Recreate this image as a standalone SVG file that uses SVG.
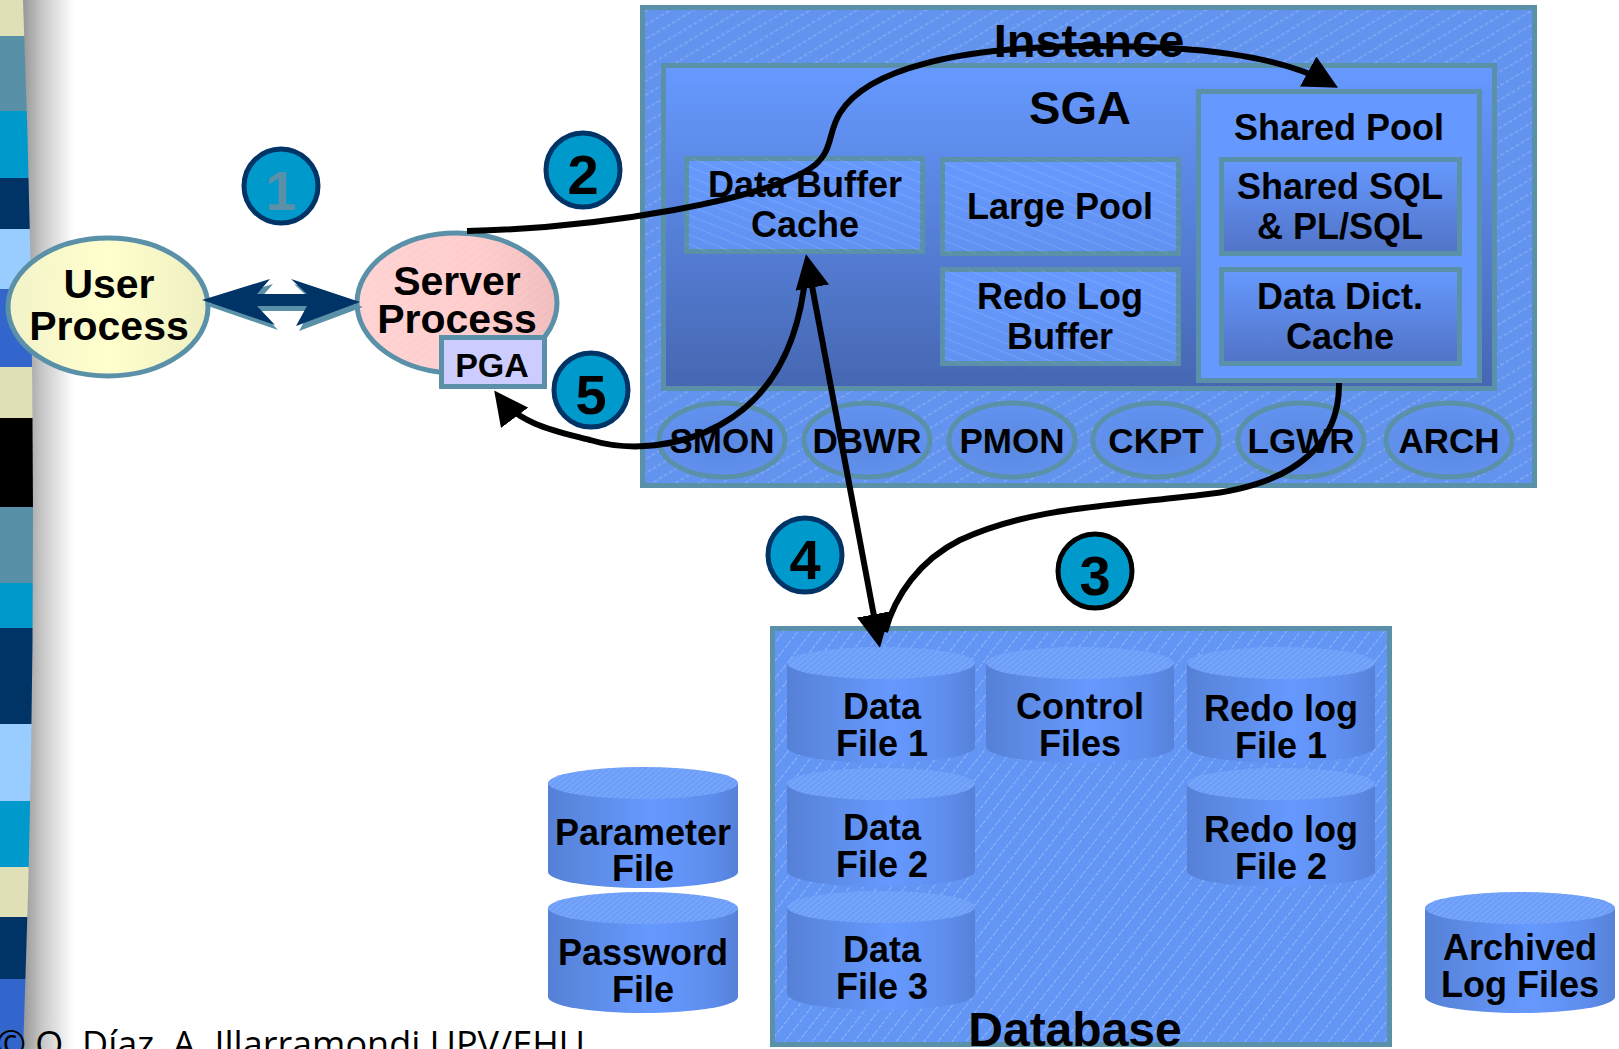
<svg xmlns="http://www.w3.org/2000/svg" width="1619" height="1049" viewBox="0 0 1619 1049">
<defs>
  <style>
    text { font-family: "Liberation Sans", Arial, sans-serif; font-weight: bold; fill: #000; text-anchor: middle; font-size: 36px; }
    .huge { font-size: 47px; }
    .proc-t { font-size: 41px; }
    .digit { font-size: 56px; }
    .edge { stroke: #5a90a8; stroke-width: 5; }
    .inner { fill: url(#innerFill); stroke: #5a90a8; stroke-width: 5; }
    .dict { fill: url(#dictFill); stroke: #5a90a8; stroke-width: 5; }
    .bg-proc { fill: url(#bgProcFill); stroke: #5a90a8; stroke-width: 5; }
    .badge { fill: #0099cc; stroke: #003366; stroke-width: 5; }
    .flow { fill: none; stroke: #000; stroke-width: 6; }
    .drum-body { fill: url(#drumBody); }
    .drum-cap { fill: url(#capHatch); }
    .footer { font-family: "Open Sans", "DejaVu Sans", sans-serif; font-weight: normal; font-size: 36px; text-anchor: start; }
  </style>

  <!-- side band shadow -->
  <linearGradient id="bandShadow" gradientUnits="userSpaceOnUse" x1="22" y1="0" x2="74" y2="0">
    <stop offset="0" stop-color="#949494"/>
    <stop offset="0.4" stop-color="#c9c9c9"/>
    <stop offset="1" stop-color="#ffffff"/>
  </linearGradient>
  <clipPath id="bandClip">
    <path d="M0,0 H23 Q43,525 23,1049 H0 Z"/>
  </clipPath>

  <linearGradient id="sgaFill" x1="0" y1="0" x2="0" y2="1">
    <stop offset="0" stop-color="#6699ff"/>
    <stop offset="1" stop-color="#4667b2"/>
  </linearGradient>
  <linearGradient id="innerFill" x1="0" y1="0" x2="0" y2="1">
    <stop offset="0" stop-color="#6699ff"/>
    <stop offset="1" stop-color="#6192f2"/>
  </linearGradient>
  <linearGradient id="dictFill" x1="0" y1="0" x2="0" y2="1">
    <stop offset="0" stop-color="#6699ff"/>
    <stop offset="1" stop-color="#5173c6"/>
  </linearGradient>
  <radialGradient id="bgProcFill" cx="0.5" cy="0.55" r="0.6">
    <stop offset="0" stop-color="#5a88e0"/>
    <stop offset="1" stop-color="#6394f2"/>
  </radialGradient>
  <linearGradient id="userFill" x1="0" y1="0" x2="1" y2="0">
    <stop offset="0" stop-color="#f2f2c8"/>
    <stop offset="0.5" stop-color="#ffffcc"/>
    <stop offset="1" stop-color="#eeeec0"/>
  </linearGradient>
  <linearGradient id="serverFill" x1="0" y1="0" x2="1" y2="0">
    <stop offset="0" stop-color="#ffd2d2"/>
    <stop offset="0.6" stop-color="#ffcccc"/>
    <stop offset="1" stop-color="#f0bcbc"/>
  </linearGradient>
  <linearGradient id="drumBody" x1="0" y1="0" x2="1" y2="0">
    <stop offset="0" stop-color="#5580d6"/>
    <stop offset="0.2" stop-color="#5c8ae4"/>
    <stop offset="0.55" stop-color="#6699ff"/>
    <stop offset="0.85" stop-color="#5e8ded"/>
    <stop offset="1" stop-color="#5681d8"/>
  </linearGradient>

  <!-- hatching -->
  <pattern id="hatchWide" patternUnits="userSpaceOnUse" width="12" height="12" patternTransform="rotate(-31)">
    <line x1="0" y1="6" x2="12" y2="6" stroke="#ffffff" stroke-opacity="0.3" stroke-width="1" stroke-dasharray="4 2"/>
  </pattern>
  <pattern id="hatchSteep" patternUnits="userSpaceOnUse" width="11" height="11" patternTransform="rotate(-52)">
    <line x1="0" y1="5.5" x2="11" y2="5.5" stroke="#ffffff" stroke-opacity="0.3" stroke-width="1" stroke-dasharray="4 2"/>
  </pattern>
  <pattern id="hatchDown" patternUnits="userSpaceOnUse" width="9" height="9" patternTransform="rotate(22)">
    <line x1="0" y1="4.5" x2="9" y2="4.5" stroke="#ffffff" stroke-opacity="0.12" stroke-width="1"/>
  </pattern>
  <pattern id="hatchSoft" patternUnits="userSpaceOnUse" width="6" height="6" patternTransform="rotate(-35)">
    <line x1="0" y1="3" x2="6" y2="3" stroke="#ffffff" stroke-opacity="0.25" stroke-width="1"/>
  </pattern>
  <pattern id="capHatch" patternUnits="userSpaceOnUse" width="4" height="4" patternTransform="rotate(-40)">
    <rect width="4" height="4" fill="#6a9cf8"/>
    <line x1="0" y1="2" x2="4" y2="2" stroke="#8fb5ff" stroke-opacity="0.7" stroke-width="1"/>
  </pattern>

  <marker id="head" markerUnits="userSpaceOnUse" markerWidth="34" markerHeight="34" viewBox="0 0 34 34" refX="26" refY="17" orient="auto-start-reverse">
    <path d="M0,0 L34,17 L0,34 Z" fill="#000"/>
  </marker>
</defs>

<rect width="1619" height="1049" fill="#ffffff"/>

<!-- decorative striped band on the left edge -->
<g id="side-band">
  <rect x="0" y="0" width="80" height="1049" fill="url(#bandShadow)"/>
  <g clip-path="url(#bandClip)">
    <rect x="0" y="0" width="50" height="36" fill="#e0e0b8"/>
    <rect x="0" y="36" width="50" height="75" fill="#5890a8"/>
    <rect x="0" y="111" width="50" height="67" fill="#0099cc"/>
    <rect x="0" y="178" width="50" height="51" fill="#003366"/>
    <rect x="0" y="229" width="50" height="60" fill="#99ccff"/>
    <rect x="0" y="289" width="50" height="78" fill="#3366cc"/>
    <rect x="0" y="367" width="50" height="51" fill="#e0e0b8"/>
    <rect x="0" y="418" width="50" height="89" fill="#000000"/>
    <rect x="0" y="507" width="50" height="76" fill="#5890a8"/>
    <rect x="0" y="583" width="50" height="45" fill="#0099cc"/>
    <rect x="0" y="628" width="50" height="96" fill="#003366"/>
    <rect x="0" y="724" width="50" height="77" fill="#99ccff"/>
    <rect x="0" y="801" width="50" height="66" fill="#0099cc"/>
    <rect x="0" y="867" width="50" height="50" fill="#e0e0b8"/>
    <rect x="0" y="917" width="50" height="62" fill="#003366"/>
    <rect x="0" y="979" width="50" height="70" fill="#3366cc"/>
  </g>
</g>

<!-- client side -->
<g id="user-process">
  <ellipse cx="108" cy="307" rx="100" ry="69" fill="url(#userFill)"/>
  <ellipse cx="108" cy="307" rx="100" ry="69" fill="url(#hatchSoft)" opacity="0.6"/>
  <ellipse cx="108" cy="307" rx="100" ry="69" fill="none" class="edge"/>
  <text class="proc-t" x="109" y="298">User</text>
  <text class="proc-t" x="109" y="340">Process</text>
</g>

<g id="server-process">
  <ellipse cx="457" cy="303" rx="100" ry="70" fill="url(#serverFill)"/>
  <ellipse cx="457" cy="303" rx="100" ry="70" fill="url(#hatchSoft)" opacity="0.6"/>
  <ellipse cx="457" cy="303" rx="100" ry="70" fill="none" class="edge"/>
  <text class="proc-t" x="457" y="295">Server</text>
  <text class="proc-t" x="457" y="333">Process</text>
</g>

<g id="pga">
  <rect x="441.5" y="337.5" width="103" height="49" fill="#ccccff" class="edge"/>
  <text x="492" y="377" style="font-size:34px">PGA</text>
</g>

<!-- instance -->
<g id="instance">
  <rect x="642.5" y="7.5" width="892" height="478" fill="#6293ee"/>
  <rect x="642.5" y="7.5" width="892" height="478" fill="url(#hatchWide)"/>
  <rect x="642.5" y="7.5" width="892" height="478" fill="none" class="edge"/>
  <text class="huge" x="1089" y="57">Instance</text>
</g>

<g id="sga">
  <rect x="663.5" y="65.5" width="831" height="323" fill="url(#sgaFill)" class="edge"/>
  <text class="huge" x="1080" y="124">SGA</text>
</g>

<g id="data-buffer-cache">
  <rect x="686.5" y="158.5" width="236" height="93" class="inner"/>
  <rect x="686.5" y="158.5" width="236" height="93" fill="url(#hatchDown)"/>
  <text x="805" y="197">Data Buffer</text>
  <text x="805" y="237">Cache</text>
</g>

<g id="large-pool">
  <rect x="942.5" y="159.5" width="236" height="94" class="inner"/>
  <rect x="942.5" y="159.5" width="236" height="94" fill="url(#hatchDown)"/>
  <text x="1060" y="219">Large Pool</text>
</g>

<g id="redo-log-buffer">
  <rect x="942.5" y="269.5" width="236" height="94" class="inner"/>
  <rect x="942.5" y="269.5" width="236" height="94" fill="url(#hatchDown)"/>
  <text x="1060" y="309">Redo Log</text>
  <text x="1060" y="349">Buffer</text>
</g>

<g id="shared-pool">
  <rect x="1198.5" y="91.5" width="281" height="289" fill="#6699ff" class="edge"/>
  <text x="1339" y="140">Shared Pool</text>
</g>

<g id="shared-sql">
  <rect x="1221.5" y="159.5" width="238" height="94" class="dict"/>
  <text x="1340" y="199">Shared SQL</text>
  <text x="1340" y="239">&amp; PL/SQL</text>
</g>

<g id="data-dict-cache">
  <rect x="1221.5" y="269.5" width="238" height="94" class="dict"/>
  <text x="1340" y="309">Data Dict.</text>
  <text x="1340" y="349">Cache</text>
</g>

<!-- background processes -->
<g id="smon"><ellipse cx="722" cy="440" rx="63" ry="37" class="bg-proc"/><text x="722" y="453" style="font-size:35px">SMON</text></g>
<g id="dbwr"><ellipse cx="867" cy="440" rx="63" ry="37" class="bg-proc"/><text x="867" y="453" style="font-size:35px">DBWR</text></g>
<g id="pmon"><ellipse cx="1012" cy="440" rx="63" ry="37" class="bg-proc"/><text x="1012" y="453" style="font-size:35px">PMON</text></g>
<g id="ckpt"><ellipse cx="1156" cy="440" rx="63" ry="37" class="bg-proc"/><text x="1156" y="453" style="font-size:35px">CKPT</text></g>
<g id="lgwr"><ellipse cx="1301" cy="440" rx="63" ry="37" class="bg-proc"/><text x="1301" y="453" style="font-size:35px">LGWR</text></g>
<g id="arch"><ellipse cx="1449" cy="440" rx="63" ry="37" class="bg-proc"/><text x="1449" y="453" style="font-size:35px">ARCH</text></g>

<!-- database -->
<g id="database">
  <rect x="772.5" y="628.5" width="617" height="416" fill="#6395f5"/>
  <rect x="772.5" y="628.5" width="617" height="416" fill="url(#hatchSteep)"/>
  <rect x="772.5" y="628.5" width="617" height="416" fill="none" class="edge"/>
  <text x="1075" y="1046" style="font-size:48px">Database</text>
</g>

<g id="data-file-1">
  <path class="drum-body" d="M787,663 V747 A94,16 0 0 0 975,747 V663 Z"/>
  <ellipse class="drum-cap" cx="881" cy="663" rx="94" ry="16"/>
  <text x="882" y="719">Data</text>
  <text x="882" y="756">File 1</text>
</g>
<g id="control-files">
  <path class="drum-body" d="M986,663 V747 A94,16 0 0 0 1174,747 V663 Z"/>
  <ellipse class="drum-cap" cx="1080" cy="663" rx="94" ry="16"/>
  <text x="1080" y="719">Control</text>
  <text x="1080" y="756">Files</text>
</g>
<g id="redo-log-file-1">
  <path class="drum-body" d="M1187,663 V747 A94,16 0 0 0 1375,747 V663 Z"/>
  <ellipse class="drum-cap" cx="1281" cy="663" rx="94" ry="16"/>
  <text x="1281" y="721">Redo log</text>
  <text x="1281" y="758">File 1</text>
</g>
<g id="data-file-2">
  <path class="drum-body" d="M787,784 V871 A94,16 0 0 0 975,871 V784 Z"/>
  <ellipse class="drum-cap" cx="881" cy="784" rx="94" ry="16"/>
  <text x="882" y="840">Data</text>
  <text x="882" y="877">File 2</text>
</g>
<g id="redo-log-file-2">
  <path class="drum-body" d="M1187,784 V871 A94,16 0 0 0 1375,871 V784 Z"/>
  <ellipse class="drum-cap" cx="1281" cy="784" rx="94" ry="16"/>
  <text x="1281" y="842">Redo log</text>
  <text x="1281" y="879">File 2</text>
</g>
<g id="data-file-3">
  <path class="drum-body" d="M787,907 V994 A94,16 0 0 0 975,994 V907 Z"/>
  <ellipse class="drum-cap" cx="881" cy="907" rx="94" ry="16"/>
  <text x="882" y="962">Data</text>
  <text x="882" y="999">File 3</text>
</g>

<!-- files outside the database -->
<g id="parameter-file">
  <path class="drum-body" d="M548,783 V872 A95,16 0 0 0 738,872 V783 Z"/>
  <ellipse class="drum-cap" cx="643" cy="783" rx="95" ry="16"/>
  <text x="643" y="845">Parameter</text>
  <text x="643" y="881">File</text>
</g>
<g id="password-file">
  <path class="drum-body" d="M548,908 V997 A95,16 0 0 0 738,997 V908 Z"/>
  <ellipse class="drum-cap" cx="643" cy="908" rx="95" ry="16"/>
  <text x="643" y="965">Password</text>
  <text x="643" y="1002">File</text>
</g>
<g id="archived-log-files">
  <path class="drum-body" d="M1425,908 V997 A95,16 0 0 0 1615,997 V908 Z"/>
  <ellipse class="drum-cap" cx="1520" cy="908" rx="95" ry="16"/>
  <text x="1520" y="960">Archived</text>
  <text x="1520" y="997">Log Files</text>
</g>

<!-- connectors -->
<g id="connectors">
  <g id="link-user-server">
    <polygon transform="translate(3,5)" fill="#5a90a8" points="202,300 270,279 257,294 307,294 291,279 360,302 296,326 307,306 257,306 275,325"/>
    <polygon fill="#003366" points="202,300 270,279 257,294 307,294 291,279 360,302 296,326 307,306 257,306 275,325"/>
  </g>
  <path id="flow-2" class="flow" marker-end="url(#head)" d="M467,231 C600,228 770,200 815,165 C833,150 828,132 840,113 C868,68 960,48 1080,46 C1200,45 1280,56 1331,84"/>
  <path id="flow-4" class="flow" marker-start="url(#head)" marker-end="url(#head)" d="M807.5,262 L878.5,640"/>
  <path id="flow-5" class="flow" marker-end="url(#head)" d="M806,270 C800,340 775,395 720,425 C680,447 630,452 590,440 C560,432 520,425 499,397"/>
  <path id="flow-3" class="flow" d="M1339,383 C1340,440 1300,485 1200,495 C1100,507 1030,508 960,540 C920,560 895,595 885,632"/>
</g>

<!-- step numbers -->
<g id="step-1"><circle cx="281" cy="186" r="37" class="badge"/><text class="digit" x="281" y="210" style="fill:#5a90a8">1</text></g>
<g id="step-2"><circle cx="583" cy="170" r="37" class="badge"/><text class="digit" x="583" y="194">2</text></g>
<g id="step-5"><circle cx="591" cy="390" r="37" class="badge"/><text class="digit" x="591" y="414">5</text></g>
<g id="step-4"><circle cx="805" cy="555" r="37" class="badge"/><text class="digit" x="805" y="579">4</text></g>
<g id="step-3"><circle cx="1095" cy="571" r="37" class="badge" style="stroke:#000"/><text class="digit" x="1095" y="595">3</text></g>

<text class="footer" x="-4" y="1057">© O. Díaz, A. Illarramondi UPV/EHU</text>
</svg>
